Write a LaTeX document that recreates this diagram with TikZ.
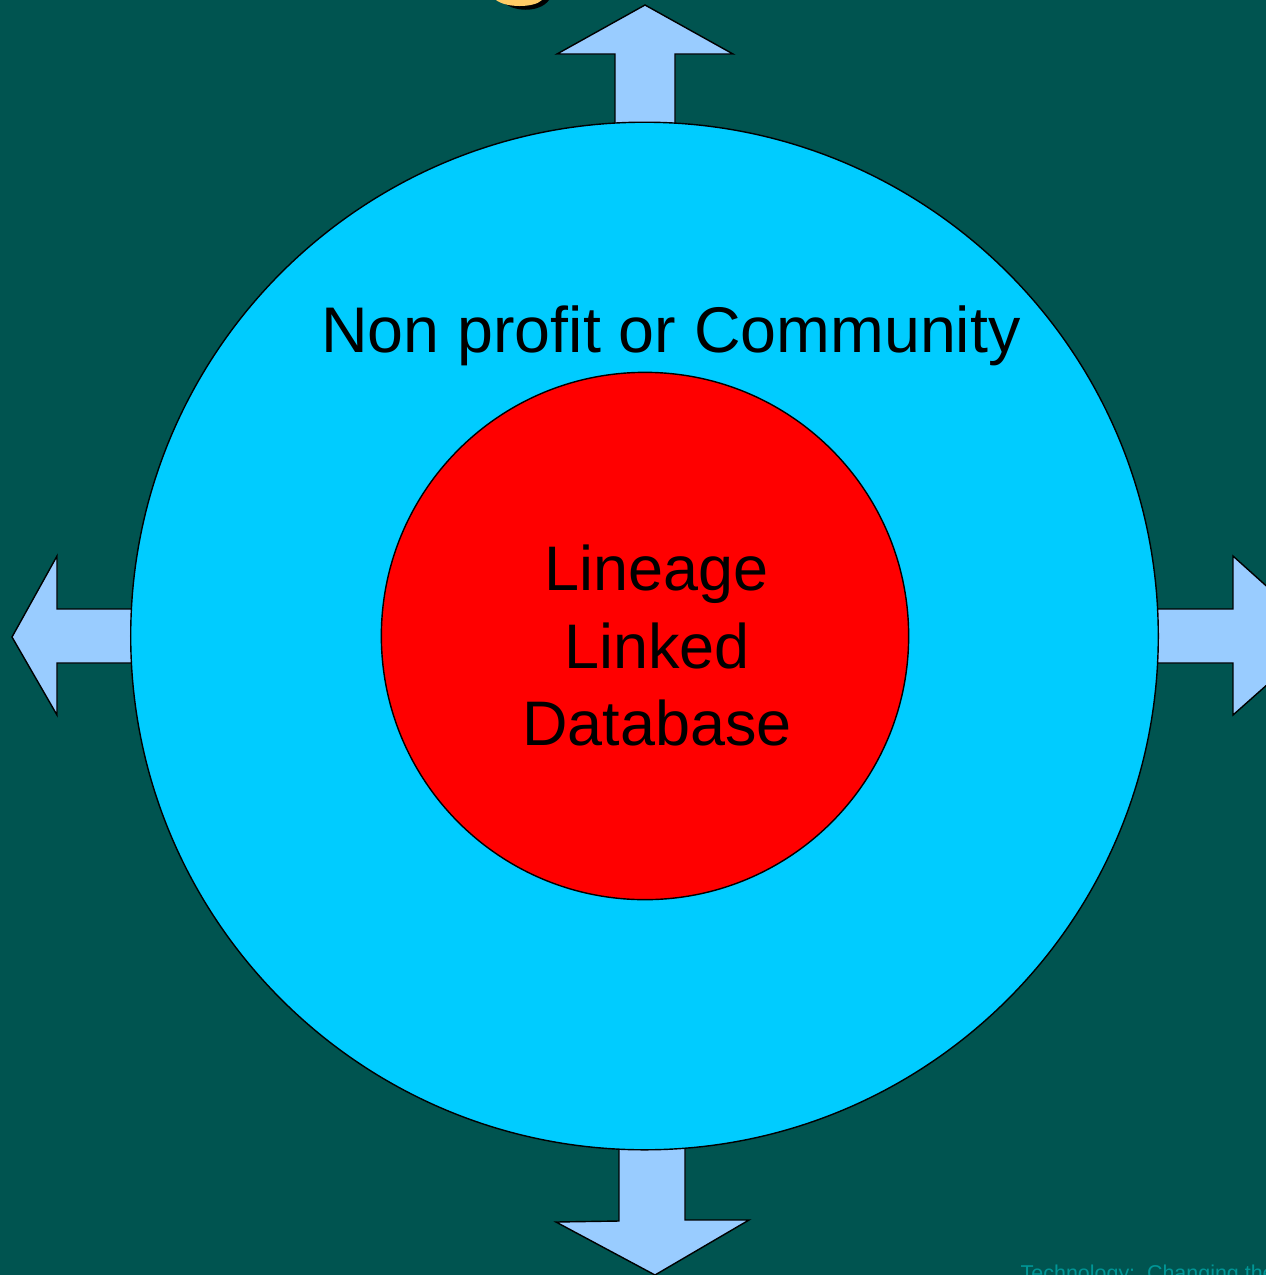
\documentclass[tikz,border=0pt]{standalone}
\usepackage{fontspec}
\setmainfont{Liberation Sans}
\definecolor{bgteal}{RGB}{0,84,80}
\definecolor{ringcyan}{RGB}{0,204,255}
\definecolor{arrowblue}{RGB}{153,204,255}
\definecolor{footteal}{RGB}{0,150,150}
\definecolor{titleyellow}{RGB}{255,204,102}
\begin{document}
\begin{tikzpicture}[x=0.01cm,y=-0.01cm,
  arrowshape/.style={fill=arrowblue,draw=black,line width=0.4pt,line join=miter},
  ringstyle/.style={circle,draw=black,line width=0.4pt,inner sep=0pt},
  bigtext/.style={font=\fontsize{18.35}{22}\selectfont,text=black}]
\useasboundingbox (0,0) rectangle (1266,1275);
\fill[bgteal] (0,0) rectangle (1266,1275);
\begin{scope}
\clip (0,0) rectangle (1266,1275);
% title fragment
\fill[black] (501,0) .. controls (512,13) and (540,13) .. (549,0) -- cycle;
\fill[titleyellow] (496,0) .. controls (506,8) and (534,8) .. (542,0) -- cycle;
% arrows
\draw[arrowshape] (615,125) -- (615,54) -- (557,54) -- (645,5) -- (733,54) -- (675,54) -- (675,125);
\draw[arrowshape] (619,1147) -- (619,1221) -- (556,1222) -- (655,1275) -- (749,1220) -- (685,1220) -- (685,1147);
\draw[arrowshape] (133,609) -- (57,609) -- (57,556) -- (12,637) -- (57,715) -- (57,663) -- (133,663);
\draw[arrowshape] (1156,609) -- (1233,609) -- (1233,556) -- (1322,636) -- (1233,715) -- (1233,663) -- (1156,663);
% circles
\node[ringstyle,fill=ringcyan,minimum size=10.27cm] (outer) at (644.5,636) {};
\node[ringstyle,fill=red,minimum size=5.27cm] (inner) at (645,636) {};
% texts
\node[bigtext,anchor=base,inner sep=0pt] (community) at (671,352) {Non profit or Community};
\node[bigtext,align=center,anchor=base,inner sep=0pt,
  font=\fontsize{17.9}{21.9}\selectfont] (lld) at (657,745) {Lineage\\Linked\\Database};
\node[anchor=base west,inner sep=0pt,text=footteal,font=\fontsize{6.1}{7}\selectfont] (footer) at (1020,1280) {Technology:\ \ Changing the};
\end{scope}
\end{tikzpicture}
\end{document}
